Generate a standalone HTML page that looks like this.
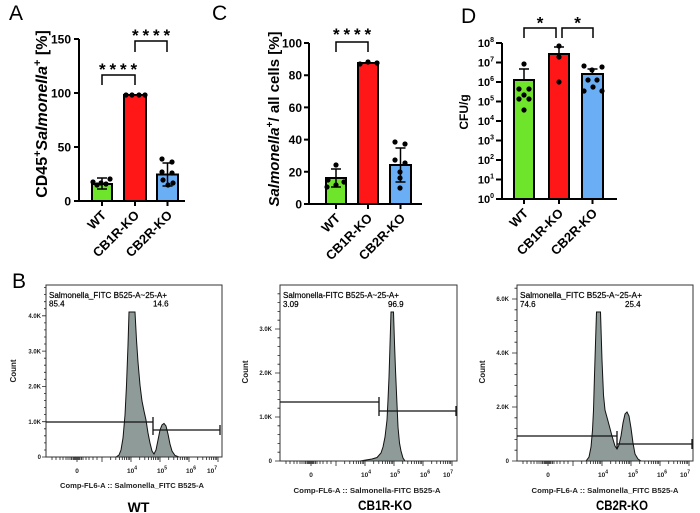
<!DOCTYPE html>
<html><head><meta charset="utf-8"><style>
html,body{margin:0;padding:0;background:#fff;}
svg{display:block;font-family:"Liberation Sans",Arial,sans-serif;}
</style></head><body>
<svg width="700" height="513" viewBox="0 0 700 513" xmlns="http://www.w3.org/2000/svg">
<defs>
<path id="xt" fill="none" stroke="#222" stroke-width="0.8" d="M6,0v3M10,0v3M14,0v3M17,0v3M20,0v3M22,0v3M24,0v3M25.5,0v3M27,0v3M28,0v3M29,0v3M30,0v3M31,0v5M32,0v3M33,0v3M34,0v3M35.5,0v3M37,0v3M40,0v3M43,0v3M47,0v3M51,0v3M56,0v5M64.7,0v3M69.8,0v3M73.5,0v3M76.3,0v3M78.6,0v3M80.5,0v3M82.2,0v3M83.7,0v3M85,0v5M93.7,0v3M98.8,0v3M102.5,0v3M105.3,0v3M107.6,0v3M109.5,0v3M111.2,0v3M112.7,0v3M114,0v5M122.7,0v3M127.8,0v3M131.5,0v3M134.3,0v3M136.6,0v3M138.5,0v3M140.2,0v3M141.7,0v3M143,0v5M151.7,0v3M156.8,0v3M160.5,0v3M163.3,0v3M165.6,0v3M167.5,0v3M169.2,0v3M170.7,0v3M172,0v5"/>
</defs>

<!-- ================= Panel A ================= -->
<text x="9" y="20" font-size="21">A</text>
<g stroke="#000" stroke-width="2">
<rect x="92" y="184" width="20" height="17" fill="#6ee52a"/>
<rect x="124" y="95" width="22" height="106" fill="#ff1616"/>
<rect x="157" y="174.5" width="21" height="26.5" fill="#6aaef5"/>
</g>
<g stroke="#000" stroke-width="1.5" fill="none">
<path d="M102,184V178M97,178H107M102,184V189M97,189H107"/>
<path d="M167.5,174.5V163M162.5,163H172.5M167.5,174.5V186M162.5,186H172.5"/>
<path d="M102,85V75H135V85M135,52V41H167V52"/>
</g>
<g fill="#000">
<circle cx="93" cy="182" r="2.6"/><circle cx="101" cy="183" r="2.6"/><circle cx="110" cy="179" r="2.6"/><circle cx="106" cy="184" r="2.6"/><circle cx="97" cy="185" r="2.6"/>
<circle cx="126" cy="95" r="2.6"/><circle cx="132" cy="95" r="2.6"/><circle cx="139" cy="95" r="2.6"/><circle cx="145" cy="95" r="2.6"/>
<circle cx="162" cy="159" r="2.6"/><circle cx="172" cy="162" r="2.6"/><circle cx="162" cy="172" r="2.6"/><circle cx="172" cy="173" r="2.6"/><circle cx="163" cy="180" r="2.6"/><circle cx="173" cy="183" r="2.6"/><circle cx="168" cy="185" r="2.6"/>
</g>
<path d="M79,39V201H185M74,39H79M74,93H79M74,147H79M74,201H79M102,201V206M135,201V206M167.5,201V206" stroke="#000" stroke-width="2" fill="none"/>
<g font-size="12" font-weight="bold" text-anchor="end">
<text x="71" y="43.5">150</text><text x="71" y="97.5">100</text><text x="71" y="151.5">50</text><text x="71" y="205.5">0</text>
</g>
<g font-size="17" font-weight="bold" text-anchor="middle" letter-spacing="3.9">
<text x="120" y="75">****</text><text x="153" y="41">****</text>
</g>
<text transform="translate(47,114) rotate(-90)" text-anchor="middle" font-size="16" font-weight="bold">CD45<tspan dy="-6" font-size="11">+</tspan><tspan dy="6" font-style="italic">Salmonella</tspan><tspan dy="-6" font-size="11">+</tspan><tspan dy="6"> [%]</tspan></text>
<g font-size="13" font-weight="bold" text-anchor="end">
<text transform="translate(107,216) rotate(-45)">WT</text>
<text transform="translate(140,216) rotate(-45)">CB1R-KO</text>
<text transform="translate(173,216) rotate(-45)">CB2R-KO</text>
</g>

<!-- ================= Panel C ================= -->
<text x="212" y="20" font-size="21">C</text>
<g stroke="#000" stroke-width="2">
<rect x="326" y="178" width="20" height="26" fill="#6ee52a"/>
<rect x="358" y="63" width="20" height="141" fill="#ff1616"/>
<rect x="390" y="165" width="21" height="39" fill="#6aaef5"/>
</g>
<g stroke="#000" stroke-width="1.5" fill="none">
<path d="M336,178V169M331,169H341M336,178V187M331,187H341"/>
<path d="M400.5,165V148M395.5,148H405.5M400.5,165V182M395.5,182H405.5"/>
<path d="M336,52V42H368V52"/>
</g>
<g fill="#000">
<circle cx="336" cy="165" r="2.6"/><circle cx="328" cy="180" r="2.6"/><circle cx="344" cy="182" r="2.6"/><circle cx="336" cy="185" r="2.6"/><circle cx="327" cy="187" r="2.6"/>
<circle cx="360" cy="64" r="2.6"/><circle cx="368" cy="62" r="2.6"/><circle cx="377" cy="63" r="2.6"/>
<circle cx="395" cy="142" r="2.6"/><circle cx="405" cy="144" r="2.6"/><circle cx="395" cy="160" r="2.6"/><circle cx="405" cy="163" r="2.6"/><circle cx="400" cy="172" r="2.6"/><circle cx="400" cy="178" r="2.6"/><circle cx="400" cy="188" r="2.6"/>
</g>
<path d="M309,43V204H422M304,43H309M304,75.2H309M304,107.4H309M304,139.6H309M304,171.8H309M304,204H309M336,204V209M368,204V209M400.5,204V209" stroke="#000" stroke-width="2" fill="none"/>
<g font-size="12" font-weight="bold" text-anchor="end">
<text x="302" y="47.5">100</text><text x="302" y="79.7">80</text><text x="302" y="111.9">60</text><text x="302" y="144.1">40</text><text x="302" y="176.3">20</text><text x="302" y="208.5">0</text>
</g>
<text x="354" y="40" font-size="17" font-weight="bold" text-anchor="middle" letter-spacing="3.9">****</text>
<text transform="translate(279,119) rotate(-90)" text-anchor="middle" font-size="15" font-weight="bold"><tspan font-style="italic">Salmonella</tspan><tspan dy="-6" font-size="10">+</tspan><tspan dy="6">/ all cells [%]</tspan></text>
<g font-size="13" font-weight="bold" text-anchor="end">
<text transform="translate(341,219) rotate(-45)">WT</text>
<text transform="translate(373,219) rotate(-45)">CB1R-KO</text>
<text transform="translate(406,219) rotate(-45)">CB2R-KO</text>
</g>

<!-- ================= Panel D ================= -->
<text x="461" y="23" font-size="21">D</text>
<g stroke="#000" stroke-width="2">
<rect x="514" y="80" width="20" height="119" fill="#6ee52a"/>
<rect x="549" y="54" width="20" height="145" fill="#ff1616"/>
<rect x="582" y="74" width="21" height="125" fill="#6aaef5"/>
</g>
<g stroke="#000" stroke-width="1.5" fill="none">
<path d="M524,80V69M519,69H529"/>
<path d="M559,54V47M554,47H564"/>
<path d="M592.5,74V69M587.5,69H597.5"/>
<path d="M524,38V28H556V38M562,38V28H593V38"/>
</g>
<g fill="#000">
<circle cx="524" cy="64" r="2.6"/><circle cx="519" cy="89" r="2.6"/><circle cx="529" cy="89" r="2.6"/><circle cx="524" cy="95" r="2.6"/><circle cx="519" cy="99" r="2.6"/><circle cx="529" cy="99" r="2.6"/><circle cx="524" cy="110" r="2.6"/>
<circle cx="559" cy="46" r="2.6"/><circle cx="559" cy="57" r="2.6"/><circle cx="559" cy="82" r="2.6"/>
<circle cx="584" cy="66" r="2.6"/><circle cx="592" cy="70" r="2.6"/><circle cx="602" cy="67" r="2.6"/><circle cx="588" cy="80" r="2.6"/><circle cx="597" cy="80" r="2.6"/><circle cx="593" cy="87" r="2.6"/><circle cx="584" cy="91" r="2.6"/><circle cx="602" cy="91" r="2.6"/>
</g>
<path d="M502,43V199H617M496,43H502M496,62.5H502M496,82H502M496,101.5H502M496,121H502M496,140.5H502M496,160H502M496,179.5H502M496,199H502M524,199V204M559,199V204M592.5,199V204" stroke="#000" stroke-width="2" fill="none"/>
<g font-size="11" font-weight="bold" text-anchor="end">
<text x="494" y="47">10<tspan dy="-5" font-size="7">8</tspan></text>
<text x="494" y="66.5">10<tspan dy="-5" font-size="7">7</tspan></text>
<text x="494" y="86">10<tspan dy="-5" font-size="7">6</tspan></text>
<text x="494" y="105.5">10<tspan dy="-5" font-size="7">5</tspan></text>
<text x="494" y="125">10<tspan dy="-5" font-size="7">4</tspan></text>
<text x="494" y="144.5">10<tspan dy="-5" font-size="7">3</tspan></text>
<text x="494" y="164">10<tspan dy="-5" font-size="7">2</tspan></text>
<text x="494" y="183.5">10<tspan dy="-5" font-size="7">1</tspan></text>
<text x="494" y="203">10<tspan dy="-5" font-size="7">0</tspan></text>
</g>
<g font-size="17" font-weight="bold" text-anchor="middle">
<text x="540" y="28.5">*</text><text x="577.5" y="28.5">*</text>
</g>
<text transform="translate(468,112) rotate(-90)" text-anchor="middle" font-size="12" font-weight="bold">CFU/g</text>
<g font-size="13" font-weight="bold" text-anchor="end">
<text transform="translate(529,214) rotate(-45)">WT</text>
<text transform="translate(564,214) rotate(-45)">CB1R-KO</text>
<text transform="translate(598,214) rotate(-45)">CB2R-KO</text>
</g>

<!-- ================= Panel B ================= -->
<text x="12" y="288" font-size="21">B</text>

<!-- WT histogram -->
<path d="M116,457L119,455L121,450L123,438L125,415L126.5,385L128,345L129,312L135,312L136.5,340L138,362L140,385L142,401L144,411L146,420L148,433L150,443L152,451L154,454L156,450L158,440L160,430L162,425L164,423.5L166,426L168,434L170,444L172,451L175,455.5L179,457Z" fill="#8e9b98" stroke="#111" stroke-width="1"/>
<rect x="46" y="285" width="176" height="172" fill="none" stroke="#333" stroke-width="1"/>
<path d="M46,422H153M153,417V427M153,430H220M153,425V435M220,425V435" stroke="#111" stroke-width="1.3" fill="none"/>
<path d="M42,457H46M42,421.7H46M42,386.4H46M42,351.1H46M42,315.8H46M44,450H46M44,442.9H46M44,435.8H46M44,428.8H46M44,414.6H46M44,407.6H46M44,400.5H46M44,393.5H46M44,379.3H46M44,372.3H46M44,365.2H46M44,358.2H46M44,344H46M44,337H46M44,329.9H46M44,322.9H46M44,308.7H46M44,301.7H46M44,294.6H46M44,287.6H46" stroke="#222" stroke-width="0.8" fill="none"/>
<use href="#xt" transform="translate(46,457)"/>
<g fill="#000" font-size="8" stroke="#000" stroke-width="0.2">
<text x="49" y="298" textLength="118" lengthAdjust="spacingAndGlyphs">Salmonella_FITC B525-A~25-A+</text>
<text x="49" y="306.5">85.4</text><text x="153" y="306.5">14.6</text>
</g>
<g fill="#222" font-size="6" font-weight="bold" text-anchor="end">
<text x="41" y="318">4.0K</text><text x="41" y="353.3">3.0K</text><text x="41" y="388.6">2.0K</text><text x="41" y="423.9">1.0K</text><text x="41" y="459">0</text>
</g>
<g fill="#222" font-size="6.5" font-weight="bold" text-anchor="middle">
<text x="77" y="473">0</text>
<text x="132" y="473">10<tspan dy="-3.5" font-size="5">4</tspan></text>
<text x="162" y="473">10<tspan dy="-3.5" font-size="5">5</tspan></text>
<text x="191" y="473">10<tspan dy="-3.5" font-size="5">6</tspan></text>
<text x="212" y="473">10<tspan dy="-3.5" font-size="5">7</tspan></text>
</g>
<text transform="translate(16,371) rotate(-90)" text-anchor="middle" font-size="8" font-weight="bold" fill="#222">Count</text>
<text x="132" y="488" text-anchor="middle" font-size="7.5" font-weight="bold" fill="#222" textLength="144" lengthAdjust="spacingAndGlyphs">Comp-FL6-A :: Salmonella_FITC B525-A</text>
<text x="138.5" y="512" text-anchor="middle" font-size="14" font-weight="bold">WT</text>

<!-- CB1R histogram -->
<path d="M360,461L366,460L372,459L377,457.5L381,453L383,447L385,437L387,420L388,400L389,377L390,345L391,312L393.5,312L394.5,343L395.5,370L396.5,393L398,427L399.5,443L401,451L403,458L405,461Z" fill="#8e9b98" stroke="#111" stroke-width="1"/>
<rect x="280" y="285" width="177" height="176" fill="none" stroke="#333" stroke-width="1"/>
<path d="M280,402H379M379,397V407M379,411H456M379,406V416M456,406V416" stroke="#111" stroke-width="1.3" fill="none"/>
<path d="M275,461H280M275,417H280M275,373H280M275,329H280M277.5,452.2H280M277.5,443.4H280M277.5,434.6H280M277.5,425.8H280M277.5,408.2H280M277.5,399.4H280M277.5,390.6H280M277.5,381.8H280M277.5,364.2H280M277.5,355.4H280M277.5,346.6H280M277.5,337.8H280M277.5,320.2H280M277.5,311.4H280M277.5,302.6H280M277.5,293.8H280" stroke="#222" stroke-width="0.8" fill="none"/>
<use href="#xt" transform="translate(280,461)"/>
<g fill="#000" font-size="8" stroke="#000" stroke-width="0.2">
<text x="283" y="298" textLength="116" lengthAdjust="spacingAndGlyphs">Salmonella-FITC B525-A~25-A+</text>
<text x="283" y="307">3.09</text><text x="388" y="307">96.9</text>
</g>
<g fill="#222" font-size="6" font-weight="bold" text-anchor="end">
<text x="272" y="331">3.0K</text><text x="272" y="375">2.0K</text><text x="272" y="419">1.0K</text><text x="272" y="463">0</text>
</g>
<g fill="#222" font-size="6.5" font-weight="bold" text-anchor="middle">
<text x="311" y="477">0</text>
<text x="366" y="477">10<tspan dy="-3.5" font-size="5">4</tspan></text>
<text x="395" y="477">10<tspan dy="-3.5" font-size="5">5</tspan></text>
<text x="425" y="477">10<tspan dy="-3.5" font-size="5">6</tspan></text>
<text x="448" y="477">10<tspan dy="-3.5" font-size="5">7</tspan></text>
</g>
<text transform="translate(248,372) rotate(-90)" text-anchor="middle" font-size="8" font-weight="bold" fill="#222">Count</text>
<text x="367" y="493" text-anchor="middle" font-size="7.5" font-weight="bold" fill="#222" textLength="147" lengthAdjust="spacingAndGlyphs">Comp-FL6-A :: Salmonella-FITC B525-A</text>
<text x="385" y="510" text-anchor="middle" font-size="14" font-weight="bold" textLength="54" lengthAdjust="spacingAndGlyphs">CB1R-KO</text>

<!-- CB2R histogram -->
<path d="M586,461L589,457L591,447L592.5,430L593.5,410L594.5,375L595.5,343L596.5,312L600.5,312L602,360L603.5,395L605,410L608,421L612,436L615,446L617,449L619,445L621,436L623,423L625,414L627,412L629,416L631,428L633,443L635,454L638,459L641,461Z" fill="#8e9b98" stroke="#111" stroke-width="1"/>
<rect x="517" y="285" width="176" height="176" fill="none" stroke="#333" stroke-width="1"/>
<path d="M517,436H617M617,431V441M617,444H692M617,439V449M692,439V449" stroke="#111" stroke-width="1.3" fill="none"/>
<path d="M512,461H517M512,407H517M512,353H517M512,299H517M514.5,450.2H517M514.5,439.4H517M514.5,428.6H517M514.5,417.8H517M514.5,396.2H517M514.5,385.4H517M514.5,374.6H517M514.5,363.8H517M514.5,342.2H517M514.5,331.4H517M514.5,320.6H517M514.5,309.8H517M514.5,288.2H517" stroke="#222" stroke-width="0.8" fill="none"/>
<use href="#xt" transform="translate(517,461)"/>
<g fill="#000" font-size="8" stroke="#000" stroke-width="0.2">
<text x="520" y="298" textLength="122" lengthAdjust="spacingAndGlyphs">Salmonella_FITC B525-A~25-A+</text>
<text x="520" y="307">74.6</text><text x="625" y="307">25.4</text>
</g>
<g fill="#222" font-size="6" font-weight="bold" text-anchor="end">
<text x="509" y="301">6.0K</text><text x="509" y="355">4.0K</text><text x="509" y="409">2.0K</text><text x="509" y="463">0</text>
</g>
<g fill="#222" font-size="6.5" font-weight="bold" text-anchor="middle">
<text x="548" y="477">0</text>
<text x="603" y="477">10<tspan dy="-3.5" font-size="5">4</tspan></text>
<text x="633" y="477">10<tspan dy="-3.5" font-size="5">5</tspan></text>
<text x="662" y="477">10<tspan dy="-3.5" font-size="5">6</tspan></text>
<text x="685" y="477">10<tspan dy="-3.5" font-size="5">7</tspan></text>
</g>
<text transform="translate(485,372) rotate(-90)" text-anchor="middle" font-size="8" font-weight="bold" fill="#222">Count</text>
<text x="605" y="493" text-anchor="middle" font-size="7.5" font-weight="bold" fill="#222" textLength="147" lengthAdjust="spacingAndGlyphs">Comp-FL6-A :: Salmonella_FITC B525-A</text>
<text x="622" y="510" text-anchor="middle" font-size="14" font-weight="bold" textLength="52" lengthAdjust="spacingAndGlyphs">CB2R-KO</text>
</svg>
</body></html>
